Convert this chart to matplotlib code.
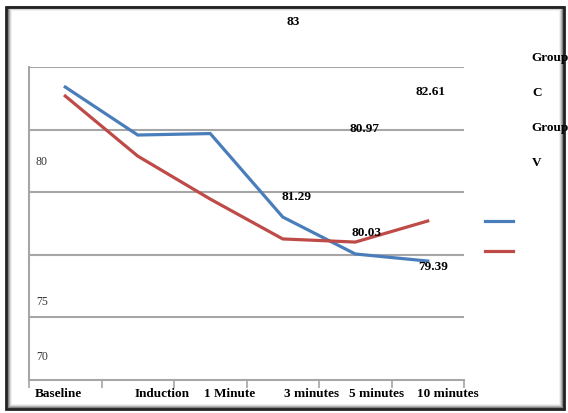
import matplotlib.pyplot as plt
from matplotlib.patches import Rectangle

categories = ["Baseline", "Induction", "1 Minute", "3 minutes", "5 minutes", "10 minutes"]
group_c = [84.04, 81.74, 81.81, 77.81, 76.04, 75.70]
group_v = [83.61, 80.73, 78.67, 76.76, 76.61, 77.62]
value_labels = ["83", "82.61", "80.97", "81.29", "80.03", "79.39"]
y_labels = ["80", "75", "70"]
legend_words = ["Group", "C", "Group", "V"]

W, H = 568, 414
fig = plt.figure(figsize=(W / 100, H / 100), dpi=100)

def fx(px):
    return px / W

def fy(py):
    return 1 - py / H

# frame with a soft shadow
for i, a in enumerate([0.35, 0.2, 0.1, 0.05]):
    fig.patches.append(Rectangle((fx(8 + i), fy(409 - i)), fx(555 - 2 * i), (401 - 2 * i) / H,
                                 transform=fig.transFigure, fill=False,
                                 edgecolor="black", alpha=a, lw=1.5))
fig.patches.append(Rectangle((fx(6), fy(410)), fx(558), 402 / H, transform=fig.transFigure,
                             fill=False, edgecolor="#222222", lw=2))

ax = fig.add_axes([fx(29), fy(381), fx(435), (381 - 68) / H])
x = [i + 0.5 for i in range(len(categories))]
ax.plot(x, group_c, color="#4a7ebb", lw=2.3, solid_joinstyle="miter")
ax.plot(x, group_v, color="#be4b48", lw=2.3, solid_joinstyle="miter")
ax.set_xlim(0, 6)
ax.set_ylim(70, 85)
ax.set_yticks([73, 76, 79, 82, 85])
ax.set_yticklabels([])
ax.tick_params(axis="y", length=0)
ax.grid(axis="y", color="#a6a6a6", lw=1.5)
ax.set_xticks(range(7))
ax.set_xticklabels([])
ax.tick_params(axis="x", length=6, color="#a6a6a6", width=1.2)
for s in ["top", "right"]:
    ax.spines[s].set_visible(False)
ax.spines["left"].set_color("#a6a6a6")
ax.spines["bottom"].set_color("#a6a6a6")
ax.spines["left"].set_linewidth(1.5)
ax.spines["bottom"].set_linewidth(1.5)

serif = "Liberation Serif"
xl_pos = [58.7, 162.5, 229.5, 312, 376.5, 447.5]
for lab, px in zip(categories, xl_pos):
    fig.text(fx(px), fy(394), lab, ha="center", va="center", family=serif,
             fontweight="bold", fontsize=9.5)

for lab, py in zip(y_labels, [162, 302, 357]):
    fig.text(fx(36), fy(py), lab, ha="left", va="center", family=serif,
             fontsize=8.5, color="#333333")

vl_pos = [(293, 22), (431, 92), (365, 129), (297, 197), (366, 233), (433, 267)]
for lab, (px, py) in zip(value_labels, vl_pos):
    fig.text(fx(px), fy(py), lab, ha="center", va="center", family=serif,
             fontweight="bold", fontsize=9.5)

lw_pos = [(550, 58), (537, 93), (550, 128), (537, 163)]
for lab, (px, py) in zip(legend_words, lw_pos):
    fig.text(fx(px), fy(py), lab, ha="center", va="center", family=serif,
             fontweight="bold", fontsize=9.5)

fig.add_artist(plt.Line2D([fx(485), fx(513)], [fy(222), fy(222)], color="#4a7ebb", lw=2.3))
fig.add_artist(plt.Line2D([fx(485), fx(513)], [fy(252), fy(252)], color="#be4b48", lw=2.3))

fig.savefig("out.png", dpi=100)
